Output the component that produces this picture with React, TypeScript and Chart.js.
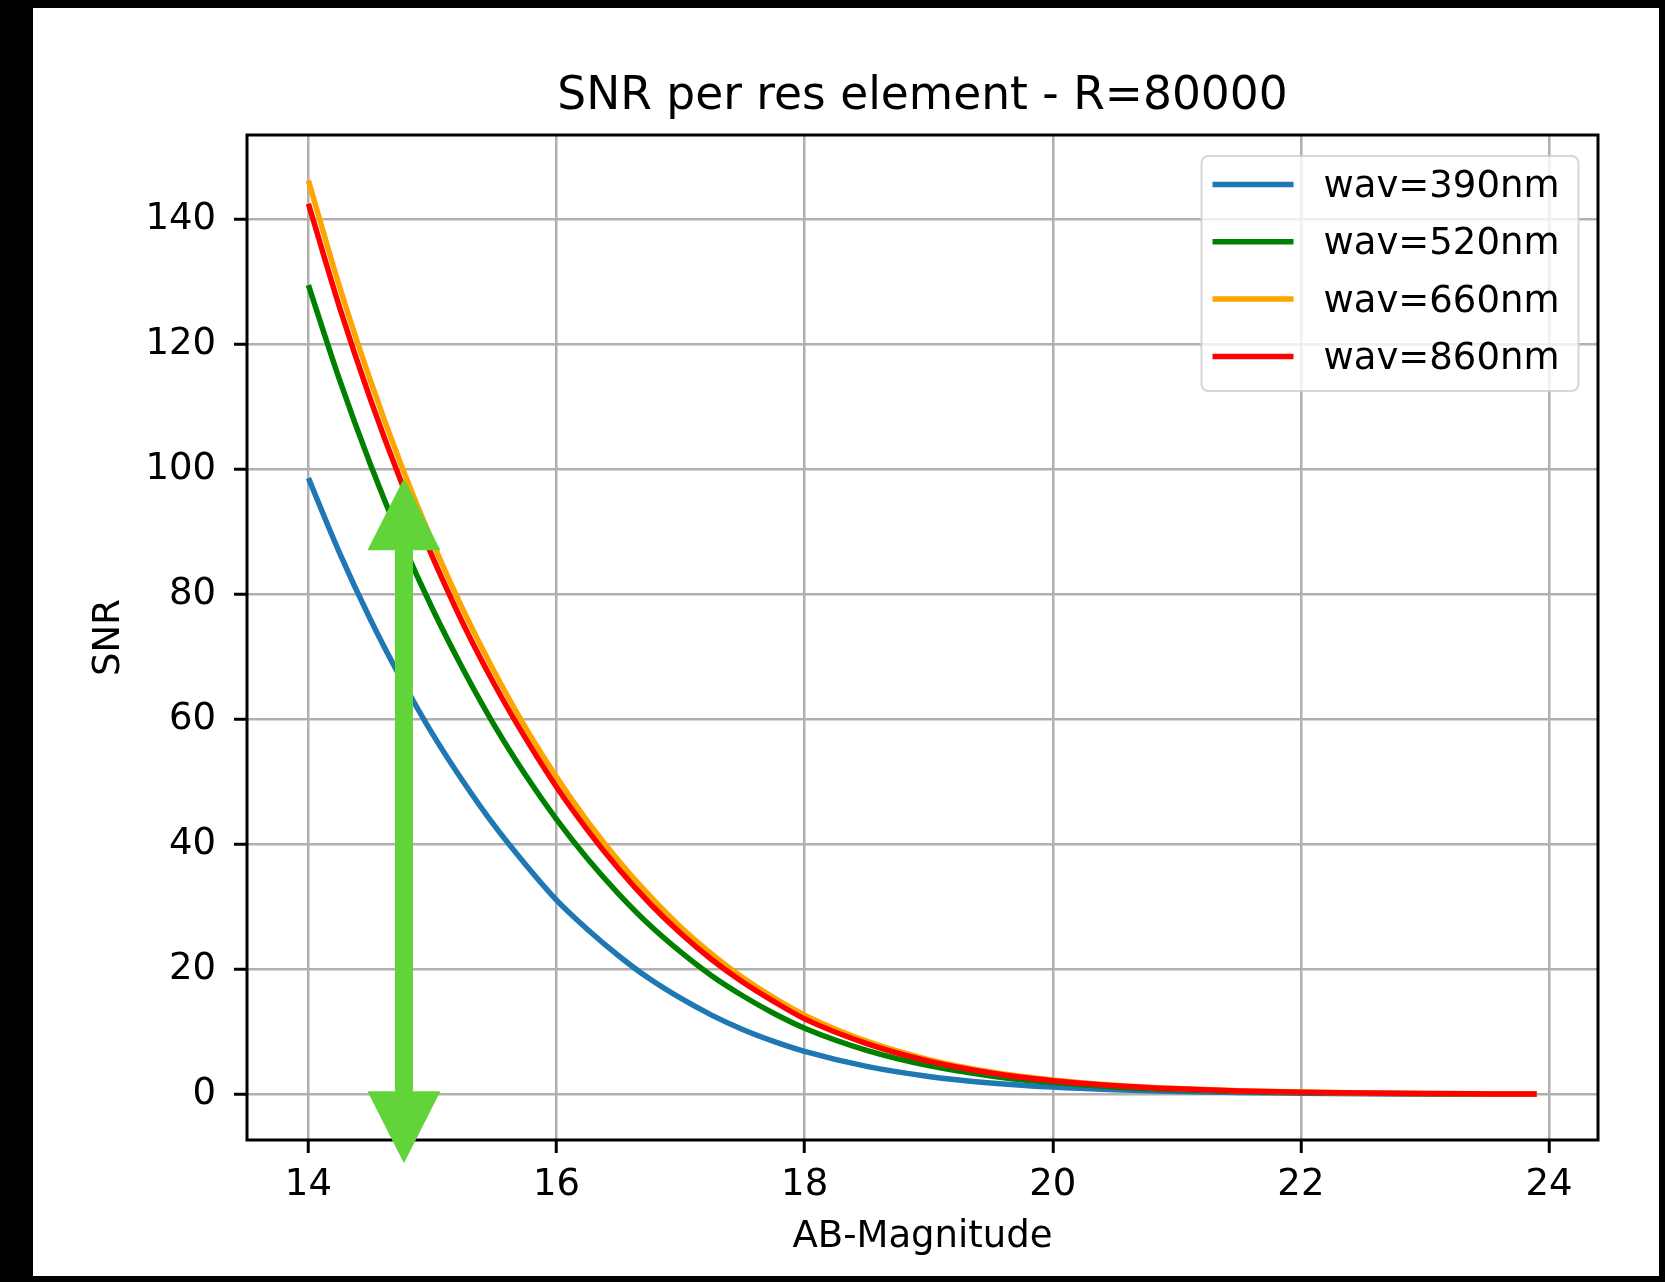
import React, { useEffect, useRef } from 'react';
import { Chart, registerables } from 'chart.js';

Chart.register(...registerables);

// ---- data ----
const magnitudes = [14, 14.25, 14.5, 14.75, 15, 15.25, 15.5, 15.75, 16, 16.25, 16.5, 16.75, 17, 17.25, 17.5, 17.75, 18, 18.5, 19, 19.5, 20, 20.5, 21, 21.5, 22, 22.5, 23, 23.5, 23.9];
const snr390 = [98.6, 86.7, 76.0, 66.4, 57.7, 50.0, 43.0, 36.8, 31.1, 26.4, 22.2, 18.5, 15.4, 12.7, 10.4, 8.5, 6.9, 4.49, 2.89, 1.85, 1.18, 0.75, 0.47, 0.3, 0.19, 0.12, 0.076, 0.048, 0.033];
const snr520 = [129.5, 114.4, 100.8, 88.6, 77.7, 67.9, 59.0, 51.1, 44.0, 37.7, 32.1, 27.1, 22.8, 19.0, 15.8, 13.0, 10.6, 7.06, 4.61, 2.97, 1.9, 1.21, 0.77, 0.49, 0.31, 0.195, 0.123, 0.078, 0.054];
const snr660 = [146.2, 129.3, 114.2, 100.6, 88.4, 77.4, 67.6, 58.7, 50.8, 43.7, 37.4, 31.8, 26.8, 22.5, 18.7, 15.5, 12.7, 8.53, 5.59, 3.62, 2.33, 1.48, 0.94, 0.6, 0.38, 0.24, 0.15, 0.095, 0.066];
const snr860 = [142.5, 126.0, 111.2, 97.9, 86.0, 75.2, 65.6, 57.0, 49.2, 42.3, 36.1, 30.6, 25.8, 21.6, 18.0, 14.9, 12.1, 8.15, 5.34, 3.45, 2.21, 1.41, 0.9, 0.57, 0.36, 0.23, 0.144, 0.091, 0.063];
const seriesLabels = ['wav=390nm', 'wav=520nm', 'wav=660nm', 'wav=860nm'];
const xTickValues = [14, 16, 18, 20, 22, 24];
const yTickValues = [0, 20, 40, 60, 80, 100, 120, 140];

// ---- styles / layout ----
const seriesColors = ['#1f77b4', '#008000', '#ffa500', '#ff0000'];
const X_MIN = 13.505;
const X_MAX = 24.395;
const Y_MIN = -7.28;
const Y_MAX = 153.5;
const FONT = 'DejaVu Sans';
const ARROW_X = 14.77;
const ARROW_TOP = 98.6;
const ARROW_BOTTOM = -11.0;
const ARROW_COLOR = '#60d439';

const CANVAS_W = 1626;
const CANVAS_H = 1268;

export default function App() {
  const ref = useRef<HTMLCanvasElement>(null);

  useEffect(() => {
    const canvas = ref.current;
    if (!canvas) return;
    const allSeries = [snr390, snr520, snr660, snr860];

    const datasets = allSeries.map((vals, i) => ({
      label: seriesLabels[i],
      data: magnitudes.map((m, j) => ({ x: m, y: vals[j] })),
      borderColor: seriesColors[i],
      backgroundColor: seriesColors[i],
      borderWidth: 5.5,
      pointRadius: 0,
      pointHoverRadius: 0,
      cubicInterpolationMode: 'monotone' as const,
      fill: false,
      order: allSeries.length - i,
    }));

    const framePlugin = {
      id: 'frame',
      afterDatasetsDraw(chart: any) {
        const { ctx, chartArea: a } = chart;
        ctx.save();
        ctx.strokeStyle = '#000';
        ctx.lineWidth = 3;
        ctx.strokeRect(a.left, a.top, a.right - a.left, a.bottom - a.top);
        ctx.restore();
      },
    };

    const legendPlugin = {
      id: 'mplLegend',
      afterDraw(chart: any) {
        const { ctx, chartArea: a } = chart;
        const w = 377;
        const h = 235;
        const x0 = a.right - 19.5 - w;
        const y0 = a.top + 21;
        const r = 7;
        ctx.save();
        ctx.beginPath();
        ctx.moveTo(x0 + r, y0);
        ctx.lineTo(x0 + w - r, y0);
        ctx.arcTo(x0 + w, y0, x0 + w, y0 + r, r);
        ctx.lineTo(x0 + w, y0 + h - r);
        ctx.arcTo(x0 + w, y0 + h, x0 + w - r, y0 + h, r);
        ctx.lineTo(x0 + r, y0 + h);
        ctx.arcTo(x0, y0 + h, x0, y0 + h - r, r);
        ctx.lineTo(x0, y0 + r);
        ctx.arcTo(x0, y0, x0 + r, y0, r);
        ctx.closePath();
        ctx.fillStyle = 'rgba(255,255,255,0.8)';
        ctx.fill();
        ctx.strokeStyle = 'rgba(204,204,204,0.8)';
        ctx.lineWidth = 2;
        ctx.stroke();
        ctx.font = `37px "${FONT}"`;
        ctx.textBaseline = 'middle';
        ctx.textAlign = 'left';
        chart.data.datasets.forEach((ds: any, i: number) => {
          const yy = y0 + 28.5 + i * 57.3;
          ctx.strokeStyle = ds.borderColor;
          ctx.lineWidth = 5.5;
          ctx.beginPath();
          ctx.moveTo(x0 + 11, yy);
          ctx.lineTo(x0 + 92, yy);
          ctx.stroke();
          ctx.fillStyle = '#000';
          ctx.fillText(ds.label, x0 + 122, yy + 3);
        });
        ctx.restore();
      },
    };

    const arrowPlugin = {
      id: 'arrow',
      afterDraw(chart: any) {
        const { ctx, scales } = chart;
        const cx = scales.x.getPixelForValue(ARROW_X);
        const top = scales.y.getPixelForValue(ARROW_TOP);
        const bot = scales.y.getPixelForValue(ARROW_BOTTOM);
        const headH = 72;
        const headW = 73;
        const shaft = 18;
        ctx.save();
        ctx.fillStyle = ARROW_COLOR;
        ctx.fillRect(cx - shaft / 2, top + headH - 1, shaft, bot - top - 2 * headH + 2);
        ctx.beginPath();
        ctx.moveTo(cx, top);
        ctx.lineTo(cx + headW / 2, top + headH);
        ctx.lineTo(cx - headW / 2, top + headH);
        ctx.closePath();
        ctx.fill();
        ctx.beginPath();
        ctx.moveTo(cx, bot);
        ctx.lineTo(cx + headW / 2, bot - headH);
        ctx.lineTo(cx - headW / 2, bot - headH);
        ctx.closePath();
        ctx.fill();
        ctx.restore();
      },
    };

    const chart = new Chart(canvas, {
      type: 'line',
      data: { datasets },
      options: {
        animation: false,
        responsive: false,
        devicePixelRatio: 1,
        layout: { padding: { top: 0, right: 61, left: 0, bottom: 0 } },
        plugins: {
          legend: { display: false },
          tooltip: { enabled: false },
          title: {
            display: true,
            text: 'SNR per res element - R=80000',
            color: '#000',
            fullSize: false,
            font: { family: FONT, size: 45.5, weight: 'normal' },
            padding: { top: 62, bottom: 10.4 },
          },
        },
        scales: {
          x: {
            type: 'linear',
            min: X_MIN,
            max: X_MAX,
            afterBuildTicks: (s: any) => {
              s.ticks = xTickValues.map((v) => ({ value: v }));
            },
            afterFit: (s: any) => {
              s.height = 136;
            },
            border: { display: false },
            grid: {
              color: '#b0b0b0',
              lineWidth: 2.5,
              tickColor: '#000',
              tickWidth: 3,
              tickLength: 13,
            },
            ticks: {
              color: '#000',
              font: { family: FONT, size: 37 },
              padding: 10,
              maxRotation: 0,
              autoSkip: false,
              callback: (v: any) => String(v),
            },
            title: {
              display: true,
              text: 'AB-Magnitude',
              color: '#000',
              font: { family: FONT, size: 37 },
              padding: { top: 0, bottom: 16 },
            },
          },
          y: {
            type: 'linear',
            min: Y_MIN,
            max: Y_MAX,
            afterBuildTicks: (s: any) => {
              s.ticks = yTickValues.map((v) => ({ value: v }));
            },
            afterFit: (s: any) => {
              s.width = 214;
            },
            border: { display: false },
            grid: {
              color: '#b0b0b0',
              lineWidth: 2.5,
              tickColor: '#000',
              tickWidth: 3,
              tickLength: 13,
            },
            ticks: {
              color: '#000',
              font: { family: FONT, size: 37 },
              padding: 18,
              autoSkip: false,
              callback: (v: any) => String(v),
            },
            title: {
              display: true,
              text: 'SNR',
              color: '#000',
              font: { family: FONT, size: 37 },
              padding: { top: 54, bottom: 0 },
            },
          },
        },
      },
      plugins: [framePlugin, legendPlugin, arrowPlugin],
    } as any);

    return () => chart.destroy();
  }, []);

  return (
    <div style={{ position: 'absolute', left: 0, top: 0, width: 1665, height: 1282, background: '#000', overflow: 'hidden' }}>
      <div style={{ position: 'absolute', left: 33, top: 8, width: CANVAS_W, height: CANVAS_H, background: '#fff' }}>
        <canvas ref={ref} width={CANVAS_W} height={CANVAS_H} style={{ width: CANVAS_W, height: CANVAS_H, display: 'block' }} />
      </div>
    </div>
  );
}
